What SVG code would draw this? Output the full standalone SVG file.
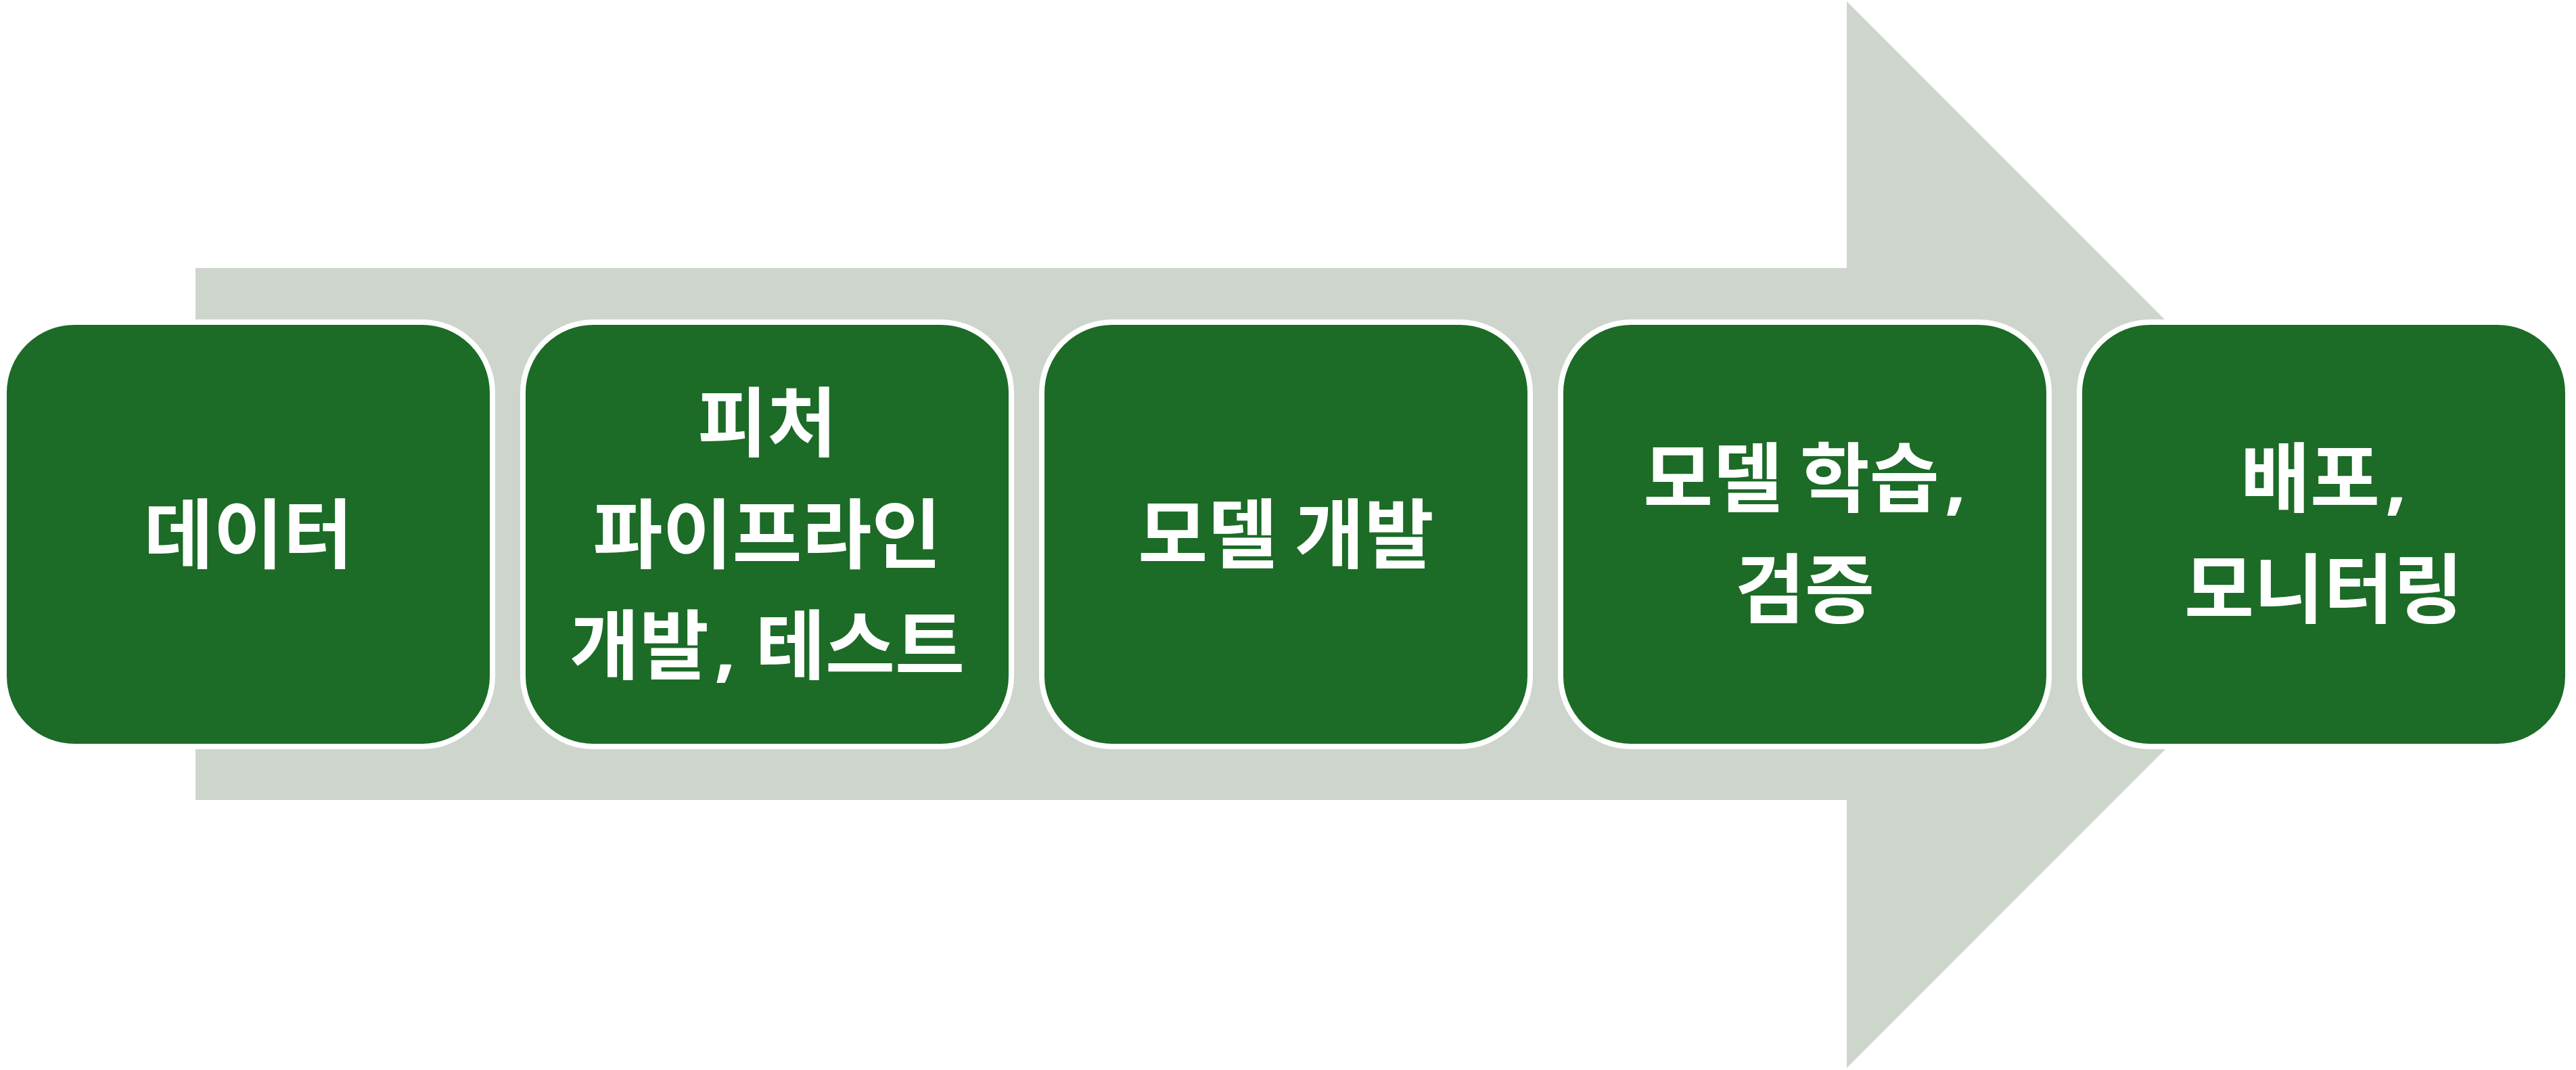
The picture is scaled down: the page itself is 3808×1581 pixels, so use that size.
<svg xmlns="http://www.w3.org/2000/svg" width="3808" height="1581" viewBox="0 0 3808 1581">
<style>
.box{fill:#1C6B27;stroke:#FFFFFF;stroke-width:8}
.lbl{fill:#FFFFFF;font-family:"Noto Sans CJK KR","Noto Sans",sans-serif;font-weight:700;font-size:112px;text-anchor:middle}
.cm{font-family:"Open Sans","Liberation Sans",sans-serif;font-weight:700}
</style>
<rect width="3808" height="1581" fill="#FFFFFF"/>
<g id="connectors">
<polygon id="arrow" points="289,396 2730,396 2730,2 3518,790 2730,1578 2730,1182 289,1182" fill="#CDD5CD"/>
</g>
<g id="node1">
<rect class="box" x="6" y="476" width="722" height="627" rx="104" ry="104"/>
<text class="lbl" x="367" y="831">데이터</text>
</g>
<g id="node2">
<rect class="box" x="773" y="476" width="722" height="627" rx="104" ry="104"/>
<text class="lbl" x="1134" y="666">피처</text>
<text class="lbl" x="1134" y="831">파이프라인</text>
<text class="lbl" x="1134" y="995">개발<tspan class="cm" dx="8">, </tspan>테스트</text>
</g>
<g id="node3">
<rect class="box" x="1540" y="476" width="722" height="627" rx="104" ry="104"/>
<text class="lbl" x="1901" y="831">모델 개발</text>
</g>
<g id="node4">
<rect class="box" x="2307" y="476" width="722" height="627" rx="104" ry="104"/>
<text class="lbl" x="2668" y="748">모델 학습<tspan class="cm" dx="8">,</tspan></text>
<text class="lbl" x="2668" y="912">검증</text>
</g>
<g id="node5">
<rect class="box" x="3074" y="476" width="722" height="627" rx="104" ry="104"/>
<text class="lbl" x="3435" y="748">배포<tspan class="cm" dx="8">,</tspan></text>
<text class="lbl" x="3435" y="912">모니터링</text>
</g>
</svg>
